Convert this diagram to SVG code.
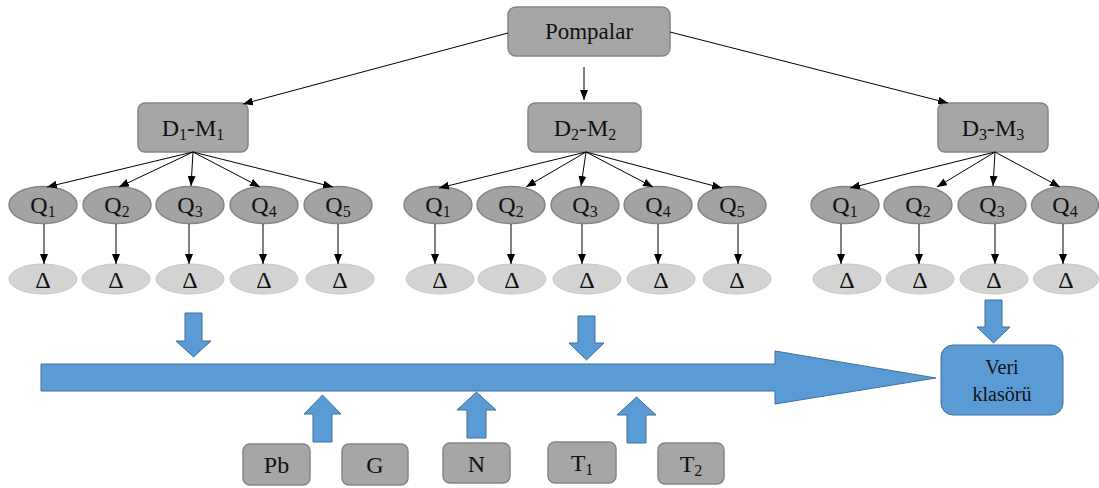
<svg xmlns="http://www.w3.org/2000/svg" width="1099" height="488" viewBox="0 0 1099 488">
<defs>
<marker id="ah" markerUnits="userSpaceOnUse" markerWidth="10" markerHeight="8" refX="10" refY="4" orient="auto">
<path d="M0,0 L10,4 L0,8 Z" fill="#000"/>
</marker>
<style>
.box{fill:#a6a6a6;stroke:#858585;stroke-width:1.5}
.q{fill:#a3a3a3;stroke:#858585;stroke-width:1.5}
.d{fill:#d3d3d3;stroke:#c6c6c6;stroke-width:1}
.blue{fill:#5b9bd5;stroke:#41719c;stroke-width:1}
.t{font-family:"Liberation Serif","Times New Roman",serif;fill:#111;text-anchor:middle}
.t22{font-size:23px}
.t24{font-size:24px}
.t20{font-size:20px}
.sub{font-size:16px}
.c line{stroke:#000;stroke-width:1;marker-end:url(#ah)}
</style>
</defs>
<rect width="1099" height="488" fill="#fff"/>

<g id="pompalar">
<rect class="box" x="508" y="7" width="162" height="49" rx="8"/>
<text class="t t22" x="589" y="39" font-family="Liberation Serif, serif">Pompalar</text>
</g>

<g id="d1m1">
<rect class="box" x="138" y="103" width="110" height="49" rx="7"/>
<text class="t t24" x="193" y="136">D<tspan class="sub" dy="4">1</tspan><tspan dy="-4">-M</tspan><tspan class="sub" dy="4">1</tspan></text>
</g>
<g id="d2m2">
<rect class="box" x="528" y="103" width="113" height="49" rx="7"/>
<text class="t t24" x="585" y="136">D<tspan class="sub" dy="4">2</tspan><tspan dy="-4">-M</tspan><tspan class="sub" dy="4">2</tspan></text>
</g>
<g id="d3m3">
<rect class="box" x="938" y="103" width="110" height="49" rx="7"/>
<text class="t t24" x="993" y="136">D<tspan class="sub" dy="4">3</tspan><tspan dy="-4">-M</tspan><tspan class="sub" dy="4">3</tspan></text>
</g>

<g id="row1-q">
<g id="r1q1"><ellipse class="q" cx="43" cy="205" rx="34" ry="18.5"/><text class="t t24" x="43" y="213">Q<tspan class="sub" dy="4">1</tspan></text></g>
<g id="r1q2"><ellipse class="q" cx="117" cy="205" rx="34" ry="18.5"/><text class="t t24" x="117" y="213">Q<tspan class="sub" dy="4">2</tspan></text></g>
<g id="r1q3"><ellipse class="q" cx="190" cy="205" rx="34" ry="18.5"/><text class="t t24" x="190" y="213">Q<tspan class="sub" dy="4">3</tspan></text></g>
<g id="r1q4"><ellipse class="q" cx="264" cy="205" rx="34" ry="18.5"/><text class="t t24" x="264" y="213">Q<tspan class="sub" dy="4">4</tspan></text></g>
<g id="r1q5"><ellipse class="q" cx="338" cy="205" rx="34" ry="18.5"/><text class="t t24" x="338" y="213">Q<tspan class="sub" dy="4">5</tspan></text></g>
</g>
<g id="row2-q">
<g id="r2q1"><ellipse class="q" cx="438" cy="205" rx="34" ry="18.5"/><text class="t t24" x="438" y="213">Q<tspan class="sub" dy="4">1</tspan></text></g>
<g id="r2q2"><ellipse class="q" cx="511" cy="205" rx="34" ry="18.5"/><text class="t t24" x="511" y="213">Q<tspan class="sub" dy="4">2</tspan></text></g>
<g id="r2q3"><ellipse class="q" cx="585" cy="205" rx="34" ry="18.5"/><text class="t t24" x="585" y="213">Q<tspan class="sub" dy="4">3</tspan></text></g>
<g id="r2q4"><ellipse class="q" cx="658" cy="205" rx="34" ry="18.5"/><text class="t t24" x="658" y="213">Q<tspan class="sub" dy="4">4</tspan></text></g>
<g id="r2q5"><ellipse class="q" cx="732" cy="205" rx="34" ry="18.5"/><text class="t t24" x="732" y="213">Q<tspan class="sub" dy="4">5</tspan></text></g>
</g>
<g id="row3-q">
<g id="r3q1"><ellipse class="q" cx="845" cy="205" rx="34" ry="18.5"/><text class="t t24" x="845" y="213">Q<tspan class="sub" dy="4">1</tspan></text></g>
<g id="r3q2"><ellipse class="q" cx="918" cy="205" rx="34" ry="18.5"/><text class="t t24" x="918" y="213">Q<tspan class="sub" dy="4">2</tspan></text></g>
<g id="r3q3"><ellipse class="q" cx="992" cy="205" rx="34" ry="18.5"/><text class="t t24" x="992" y="213">Q<tspan class="sub" dy="4">3</tspan></text></g>
<g id="r3q4"><ellipse class="q" cx="1065" cy="205" rx="33.5" ry="18.5"/><text class="t t24" x="1065" y="213">Q<tspan class="sub" dy="4">4</tspan></text></g>
</g>

<g id="deltas">
<g id="r1d1"><ellipse class="d" cx="43" cy="279" rx="34" ry="15"/><text class="t t24" x="43" y="288">Δ</text></g>
<g id="r1d2"><ellipse class="d" cx="116" cy="279" rx="34" ry="15"/><text class="t t24" x="116" y="288">Δ</text></g>
<g id="r1d3"><ellipse class="d" cx="190" cy="279" rx="34" ry="15"/><text class="t t24" x="190" y="288">Δ</text></g>
<g id="r1d4"><ellipse class="d" cx="264" cy="279" rx="34" ry="15"/><text class="t t24" x="264" y="288">Δ</text></g>
<g id="r1d5"><ellipse class="d" cx="340" cy="279" rx="34" ry="15"/><text class="t t24" x="340" y="288">Δ</text></g>
<g id="r2d1"><ellipse class="d" cx="440" cy="279" rx="34" ry="15"/><text class="t t24" x="440" y="288">Δ</text></g>
<g id="r2d2"><ellipse class="d" cx="512" cy="279" rx="34" ry="15"/><text class="t t24" x="512" y="288">Δ</text></g>
<g id="r2d3"><ellipse class="d" cx="587" cy="279" rx="34" ry="15"/><text class="t t24" x="587" y="288">Δ</text></g>
<g id="r2d4"><ellipse class="d" cx="661" cy="279" rx="34" ry="15"/><text class="t t24" x="661" y="288">Δ</text></g>
<g id="r2d5"><ellipse class="d" cx="737" cy="279" rx="34" ry="15"/><text class="t t24" x="737" y="288">Δ</text></g>
<g id="r3d1"><ellipse class="d" cx="847" cy="279" rx="34" ry="15"/><text class="t t24" x="847" y="288">Δ</text></g>
<g id="r3d2"><ellipse class="d" cx="920" cy="279" rx="34" ry="15"/><text class="t t24" x="920" y="288">Δ</text></g>
<g id="r3d3"><ellipse class="d" cx="994" cy="279" rx="34" ry="15"/><text class="t t24" x="994" y="288">Δ</text></g>
<g id="r3d4"><ellipse class="d" cx="1066" cy="279" rx="32.5" ry="15"/><text class="t t24" x="1066" y="288">Δ</text></g>
</g>

<g id="veri">
<rect class="blue" x="941" y="345" width="122" height="70" rx="12"/>
<text class="t t20" x="1002" y="374">Veri</text>
<text class="t t20" x="1002" y="401">klasörü</text>
</g>

<g id="pb"><rect class="box" x="243" y="444" width="67" height="41" rx="7"/><text class="t t24" x="276.5" y="473">Pb</text></g>
<g id="g"><rect class="box" x="342" y="444" width="66" height="41" rx="7"/><text class="t t24" x="375" y="473">G</text></g>
<g id="n"><rect class="box" x="443" y="443" width="67" height="40" rx="7"/><text class="t t24" x="476.5" y="472">N</text></g>
<g id="t1"><rect class="box" x="548" y="442" width="68" height="41" rx="7"/><text class="t t24" x="582" y="471">T<tspan class="sub" dy="4">1</tspan></text></g>
<g id="t2"><rect class="box" x="658" y="443" width="66" height="41" rx="7"/><text class="t t24" x="691" y="472">T<tspan class="sub" dy="4">2</tspan></text></g>

<g id="connectors" class="c">
<line x1="508" y1="33" x2="243" y2="104"/>
<line x1="584" y1="67" x2="584" y2="100"/>
<line x1="670" y1="32" x2="948" y2="103"/>

<line x1="193" y1="152" x2="47" y2="187"/>
<line x1="193" y1="152" x2="119" y2="187"/>
<line x1="193" y1="152" x2="191" y2="186"/>
<line x1="193" y1="152" x2="260" y2="187"/>
<line x1="193" y1="152" x2="333" y2="187"/>

<line x1="586" y1="152" x2="439" y2="188"/>
<line x1="586" y1="152" x2="526" y2="187"/>
<line x1="586" y1="152" x2="581" y2="186"/>
<line x1="586" y1="152" x2="653" y2="187"/>
<line x1="586" y1="152" x2="722" y2="188"/>

<line x1="995" y1="152" x2="850" y2="188"/>
<line x1="995" y1="152" x2="937" y2="187"/>
<line x1="995" y1="152" x2="993" y2="186"/>
<line x1="995" y1="152" x2="1060" y2="187"/>

<line x1="44" y1="224" x2="44" y2="264"/>
<line x1="116" y1="224" x2="116" y2="264"/>
<line x1="189" y1="224" x2="189" y2="264"/>
<line x1="263" y1="224" x2="263" y2="264"/>
<line x1="338" y1="224" x2="338" y2="264"/>

<line x1="435" y1="224" x2="435" y2="264"/>
<line x1="511" y1="224" x2="511" y2="264"/>
<line x1="582" y1="224" x2="582" y2="264"/>
<line x1="658" y1="224" x2="658" y2="264"/>
<line x1="738" y1="224" x2="738" y2="264"/>

<line x1="841" y1="224" x2="841" y2="264"/>
<line x1="919" y1="224" x2="919" y2="264"/>
<line x1="995" y1="224" x2="995" y2="264"/>
<line x1="1063" y1="224" x2="1063" y2="264"/>
</g>

<g id="flow">
<path class="blue" d="M41,364 H775 V351 L936,378 L775,404 V391 H41 Z"/>
<path class="blue" d="M185,313 H202 V341 H211 L193.5,357 L176,341 H185 Z"/>
<path class="blue" d="M578,316 H595 V343 H604 L586.5,360 L569,343 H578 Z"/>
<path class="blue" d="M985,300 H1002 V327 H1010 L993.5,343 L977,327 H985 Z"/>
<path class="blue" d="M313,442 V414 H304 L322.5,395 L341,414 H332 V442 Z"/>
<path class="blue" d="M467,438 V410 H457 L476.5,392 L496,410 H486 V438 Z"/>
<path class="blue" d="M627,443 V415 H617 L636.5,397 L656,415 H646 V443 Z"/>
</g>
</svg>
